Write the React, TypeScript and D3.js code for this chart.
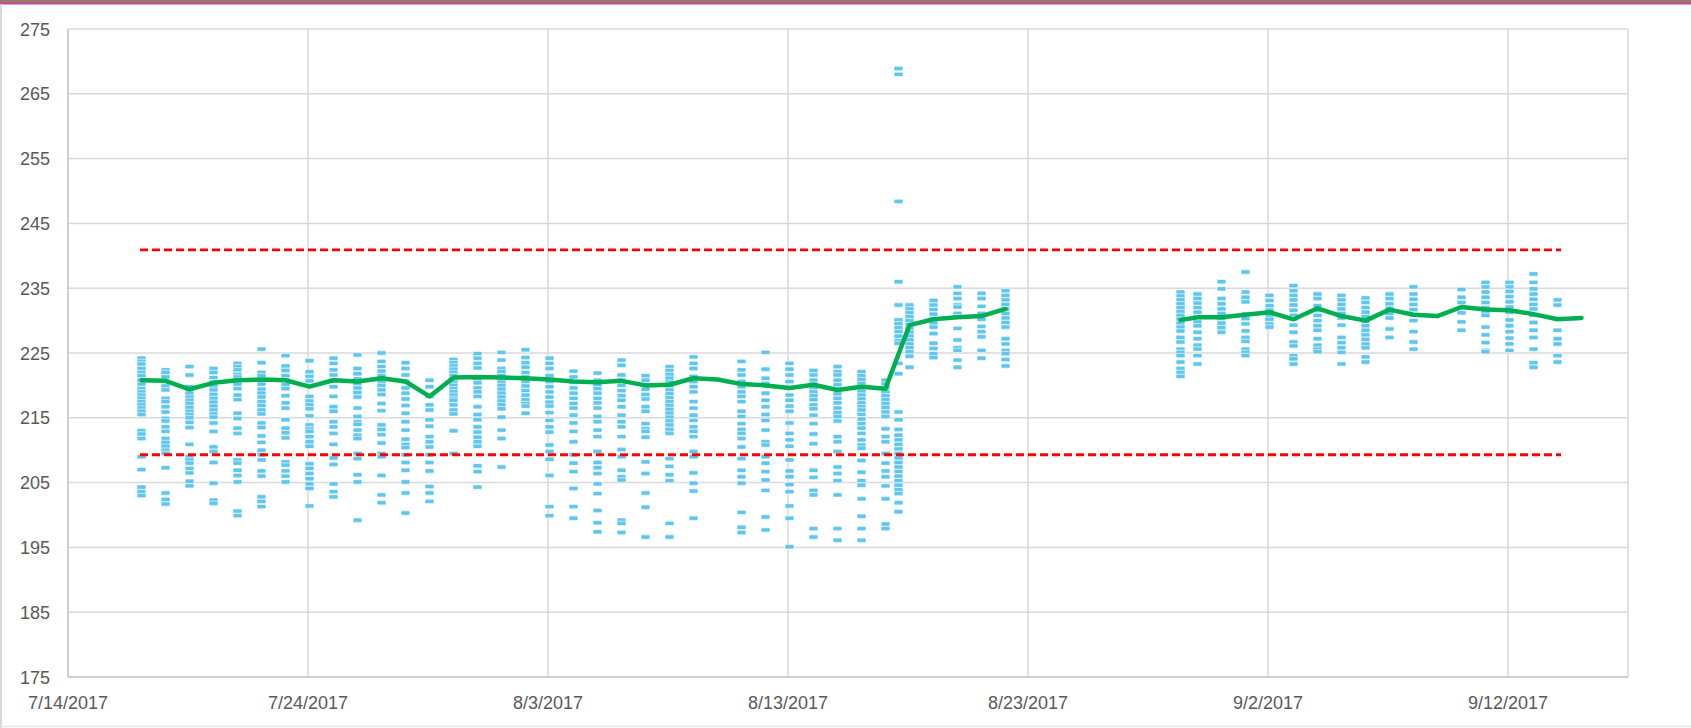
import React, { useEffect } from "react";
import * as d3 from "d3";

// ---------- DATA ----------
const xTickDates = ["7/14/2017", "7/24/2017", "8/3/2017", "8/13/2017", "8/23/2017", "9/2/2017", "9/12/2017"];
const xDomain = ["7/14/2017", "9/17/2017"];
const yTicks = [175, 185, 195, 205, 215, 225, 235, 245, 255, 265, 275];

const scatterDates = [
  "7/17/2017", "7/18/2017", "7/19/2017", "7/20/2017", "7/21/2017", "7/22/2017", "7/23/2017", "7/24/2017",
  "7/25/2017", "7/26/2017", "7/27/2017", "7/28/2017", "7/29/2017", "7/30/2017", "7/31/2017", "8/1/2017",
  "8/2/2017", "8/3/2017", "8/4/2017", "8/5/2017", "8/6/2017", "8/7/2017", "8/8/2017", "8/9/2017",
  "8/11/2017", "8/12/2017", "8/13/2017", "8/14/2017", "8/15/2017", "8/16/2017", "8/17/2017", "8/17/2017 13:00",
  "8/18/2017", "8/19/2017", "8/20/2017", "8/21/2017", "8/22/2017",
  "8/29/2017 07:00", "8/30/2017", "8/31/2017", "9/1/2017", "9/2/2017", "9/3/2017", "9/4/2017", "9/5/2017",
  "9/6/2017", "9/7/2017", "9/8/2017", "9/10/2017", "9/11/2017", "9/12/2017", "9/13/2017", "9/14/2017",
];

const scatterValues: number[][] = [
  [224.2, 223.7, 223.3, 222.6, 222, 221.5, 220.8, 220.2, 219.5, 219, 218.5, 218, 217.5, 217, 216.5, 216, 215.5, 213, 212.5, 211.8, 209, 207, 204.3, 203.6, 203],
  [222.4, 222, 221.3, 220.6, 219.9, 219.3, 218, 217.5, 216.7, 215.9, 214.9, 214.5, 213.6, 212.9, 211.8, 211.2, 210.6, 210, 209.5, 207.3, 203.4, 202.4, 201.7],
  [222.9, 221.6, 219.8, 219.3, 218.8, 218.2, 217.7, 217.2, 216.6, 216, 215.5, 215, 214.3, 213.5, 210.9, 209, 208.5, 208, 207.2, 206.5, 205.2, 204.5],
  [222.6, 222, 221.2, 220.5, 219.8, 219.3, 218.6, 218, 217.4, 216.8, 216.2, 215.6, 215.1, 214.2, 212.9, 210.5, 209.8, 208.1, 204.9, 202.3, 201.8],
  [223.4, 222.9, 222.4, 221.7, 221.3, 220.8, 220.2, 219.5, 218.5, 217.8, 215.7, 214.9, 213.4, 212.6, 208.5, 208, 206.9, 206.1, 205.1, 200.6, 199.9],
  [225.6, 223.5, 222, 221.5, 220.8, 220.2, 219.4, 218.8, 218.2, 217.5, 216.9, 216.2, 215.6, 214.2, 213.5, 212.2, 211.2, 210, 209.3, 208.5, 206.8, 206, 202.8, 202.1, 201.3],
  [224.6, 223, 222.3, 221.5, 220.8, 220.1, 219.5, 218.4, 217.3, 216.5, 214.7, 213.4, 212.7, 211.9, 208.2, 207.7, 206.8, 206, 205.1],
  [223.8, 222.1, 221.4, 220.7, 218.3, 217.6, 217, 216.4, 215.3, 213.9, 213.3, 212.9, 212.1, 211.3, 210.6, 207.9, 207.2, 206.4, 205.6, 204.8, 204.1, 201.4],
  [224.2, 223.4, 222.4, 221.6, 220.8, 219.8, 218.3, 216.7, 216, 214.4, 213.6, 212.6, 210.9, 208.8, 207.8, 204.8, 203.6, 202.8],
  [224.7, 222.6, 221.8, 221, 220.3, 219.6, 218.9, 218.2, 216.5, 215.2, 214.4, 214, 213.1, 212.3, 211.8, 209.5, 208.7, 206.2, 205.1, 199.2],
  [225, 223.7, 222.9, 222.2, 221.5, 220.6, 220, 219.3, 218.6, 217.2, 216.1, 213.9, 213.2, 212.4, 211.1, 209.5, 209, 206.1, 203.1, 201.9],
  [223.5, 222.6, 221.6, 220.6, 219.6, 218.8, 217.9, 216.9, 215.7, 214.4, 213.1, 211.7, 210.9, 210.4, 209.3, 208.1, 206.9, 205.1, 203.4, 200.3],
  [220.8, 219.8, 218.3, 217, 216.2, 214.7, 213.7, 212.1, 211.3, 210.5, 209.3, 208.1, 206.8, 204.4, 203.4, 202.1],
  [224, 223.5, 223, 222.5, 222, 221.5, 221, 220.5, 220, 219.5, 219, 218.5, 218, 217.7, 217, 216.2, 215.6, 213, 209.5],
  [224.9, 224.2, 223.4, 222.7, 221, 220.4, 219.6, 219, 218.3, 216.7, 215.5, 214.7, 213.6, 212.8, 212, 211.3, 210.6, 207.6, 206.7, 204.3],
  [225.1, 223.9, 222.6, 222.1, 221.5, 221, 220.5, 220, 219.4, 218.8, 218.2, 217.6, 217, 216.4, 215.1, 213.1, 211.8, 207.4],
  [225.5, 224.3, 223.5, 222.8, 222, 221.3, 220.6, 219.9, 219.2, 218.5, 217.8, 217.2, 216.8, 215.7],
  [224.2, 223.4, 222.6, 221.5, 220.6, 219.8, 219, 218.2, 217.4, 216.8, 215.8, 214.6, 213.6, 212.8, 210.8, 209.8, 208.6, 206.1, 201.3, 199.9],
  [222.2, 221.3, 220.5, 219.6, 218.8, 218, 217.2, 216.5, 215.4, 214.2, 212.9, 211.3, 209.3, 208, 206.7, 204.1, 201.3, 199.5],
  [221.9, 220.8, 220.1, 219.5, 218.8, 218, 217.3, 216.5, 215.2, 214.4, 213.1, 212.1, 209.8, 208.1, 207.3, 206.4, 204.8, 203.3, 200.7, 198.8, 197.4],
  [223.9, 223.1, 221.6, 220.8, 220, 219.2, 218.4, 217.7, 216.7, 215.4, 214.4, 213.6, 212.1, 210.1, 209, 206.9, 205.9, 205.4, 199.2, 198.7, 197.3],
  [221.5, 220.8, 220.1, 219.4, 218.6, 217.9, 216.7, 216, 214.1, 213.3, 212.9, 212, 208.2, 206.4, 203.4, 201.2, 196.6],
  [222.9, 222.3, 221.7, 221.1, 220.5, 219.9, 219.3, 218.7, 218.1, 217.5, 216.9, 216.3, 215.7, 215.1, 214.5, 213.9, 213.2, 212.6, 208.7, 207.5, 206.2, 205.3, 198.7, 196.6],
  [224.4, 223.4, 222.6, 221.4, 220.6, 219.8, 219, 217.5, 216.5, 215.4, 214.6, 213.6, 212.9, 212.1, 209.8, 209, 206.5, 204.9, 203.7, 199.5],
  [223.7, 222.4, 221.6, 220.6, 219.8, 219, 218.3, 217.5, 216, 215.2, 214.1, 213.2, 212.6, 211.8, 210.5, 208.7, 206.9, 205.9, 204.9, 200.4, 198.1, 197.3],
  [225.1, 222.5, 221.1, 220.3, 218.8, 217.7, 216.7, 215.5, 214.6, 213.1, 211.3, 210.8, 209, 208, 206.7, 205.4, 203.8, 199.7, 197.7],
  [223.4, 222.5, 221.6, 220.6, 218.5, 217.7, 216.8, 216, 214.2, 212.6, 211.6, 210.6, 208.5, 206.8, 205.9, 204.7, 203.6, 201.4, 199.5, 195.1],
  [222.3, 221.6, 220.8, 220.2, 219.6, 219, 218.4, 217.8, 217, 216.4, 215.4, 214.1, 212.5, 211, 206.9, 205.8, 203.8, 203.1, 197.9, 196.6],
  [222.9, 222.1, 221.6, 220.8, 220.1, 219.4, 218.7, 218, 217.3, 216.5, 215.8, 215.2, 214.5, 212.1, 211.3, 209.8, 207.4, 206.4, 205.3, 203.1, 197.9, 196.1],
  [222.1, 221.5, 220.9, 220.3, 219.7, 219.1, 218.5, 217.9, 217.3, 216.7, 216.2, 215.5, 214.8, 214.1, 213.4, 212.6, 211.6, 210.8, 210.3, 208.4, 206.6, 205.3, 204.6, 202.5, 199.8, 197.9, 196.1],
  [220.8, 220.2, 219.6, 219, 218.4, 217.8, 217.2, 216.6, 215.9, 215.2, 213.3, 212.1, 211.3, 209.5, 208, 206.8, 205.9, 204.5, 202.5, 198.6, 197.9],
  [268.9, 268, 248.4, 236, 232.4, 230.1, 229.5, 228.9, 228.3, 227.6, 226.9, 226.5, 223.4, 221.8, 215.9, 214.7, 213.2, 212.3, 211.6, 210.9, 210.2, 209.5, 208.8, 208.1, 207.4, 206.7, 206, 205.3, 204.6, 203.9, 203.3, 201.9, 200.5],
  [232.4, 231.8, 231.2, 230.6, 230, 229.4, 228.8, 228.2, 227.6, 227, 226.4, 225.8, 225.2, 224.5, 222.8],
  [233.1, 232.4, 231.7, 231, 230.3, 229.6, 229, 228, 226.5, 225.7, 224.9, 224.3],
  [235.2, 234.2, 233.4, 232.4, 232.1, 231.1, 230.6, 228.8, 227, 225.8, 225.4, 223.9, 222.8],
  [234.2, 233.4, 232.2, 231.1, 230.2, 229.1, 228.3, 227.5, 225.4, 224.2],
  [234.6, 233.9, 233.2, 232.5, 231.8, 231.1, 230.4, 229.7, 229, 227.2, 226.4, 225.4, 224.9, 224, 223],
  [234.4, 233.8, 233.2, 232.6, 232, 231.4, 230.8, 230.2, 229.6, 229, 228.4, 227.4, 226.7, 225.6, 225.1, 224.6, 223.6, 222.6, 222, 221.4],
  [234.1, 233.4, 232.7, 232, 231.3, 230.6, 229.8, 229.2, 228.2, 227.2, 226.2, 225.6, 224.6, 223.3],
  [236, 234.9, 233.4, 232.6, 231.8, 231.1, 230.3, 229.6, 228.9, 228.2],
  [237.5, 234.4, 233.6, 232.9, 231, 230.3, 229.5, 228.4, 227.4, 226.8, 225.6, 225.1, 224.6],
  [233.9, 233.1, 232.3, 231.6, 230.8, 230.2, 229.5, 229],
  [235.4, 234.6, 233.9, 233.2, 232.4, 231.6, 230.8, 230.3, 229.3, 228.2, 226.7, 226.1, 224.6, 224.1, 223.3],
  [234.1, 233.4, 232.3, 231.6, 230.8, 230, 229.2, 228.5, 227.2, 226.2, 225.6, 225.2],
  [233.9, 233.2, 232.5, 231.8, 231.1, 230.4, 229.3, 227.4, 226.6, 225.8, 225.1, 223.3],
  [233.5, 232.8, 232, 231.3, 230.6, 229.9, 229.2, 228.5, 227.8, 227.1, 226.4, 225.8, 224.4, 223.6],
  [234.1, 233.4, 232.6, 231.9, 231.1, 230.4, 228.7, 227.4],
  [235.2, 234.1, 233.3, 232.5, 231.7, 230.9, 230, 228.3, 226.7, 225.6],
  [234.8, 233.6, 232.8, 232, 231.2, 229.8, 228.5],
  [235.9, 235.2, 234.4, 233.6, 232.8, 232, 231.3, 230.8, 229, 227.8, 226.6, 225.4, 225.2],
  [235.9, 235.2, 234.5, 233.7, 232.9, 232.1, 231.3, 230.1, 229.2, 228.3, 227.3, 226.4, 225.4],
  [237.2, 235.9, 234.9, 234.1, 233.3, 232.5, 231.8, 230.8, 229.7, 228.5, 227.4, 225.6, 223.5, 222.8],
  [233.2, 232.4, 230.3, 228.5, 227.2, 226.4, 224.6, 223.6],
];

const avgDates1 = [
  "7/17/2017", "7/18/2017", "7/19/2017", "7/20/2017", "7/21/2017", "7/22/2017", "7/23/2017", "7/24/2017",
  "7/25/2017", "7/26/2017", "7/27/2017", "7/28/2017", "7/29/2017", "7/30/2017", "7/31/2017", "8/1/2017",
  "8/2/2017", "8/3/2017", "8/4/2017", "8/5/2017", "8/6/2017", "8/7/2017", "8/8/2017", "8/9/2017",
  "8/10/2017", "8/11/2017", "8/12/2017", "8/13/2017", "8/14/2017", "8/15/2017", "8/16/2017", "8/17/2017",
  "8/18/2017", "8/19/2017", "8/20/2017", "8/21/2017", "8/22/2017",
];
const avgValues1 = [
  220.8, 220.7, 219.4, 220.4, 220.8, 220.9, 220.8, 219.8,
  220.8, 220.6, 221.1, 220.6, 218.3, 221.2, 221.3, 221.2,
  221.1, 220.9, 220.6, 220.5, 220.7, 220.0, 220.1, 221.1,
  220.9, 220.2, 220.0, 219.6, 220.1, 219.3, 219.8, 219.5,
  229.3, 230.2, 230.5, 230.7, 231.8,
];
const avgDates2 = [
  "8/29/2017 07:00", "8/30/2017", "8/31/2017", "9/1/2017", "9/2/2017", "9/3/2017", "9/4/2017", "9/5/2017",
  "9/6/2017", "9/7/2017", "9/8/2017", "9/9/2017", "9/10/2017", "9/11/2017", "9/12/2017", "9/13/2017",
  "9/14/2017", "9/15/2017",
];
const avgValues2 = [
  230.1, 230.5, 230.5, 230.9, 231.3, 230.2, 231.9, 230.7,
  230.0, 231.7, 230.9, 230.7, 232.1, 231.7, 231.6, 231.0,
  230.2, 230.4,
];

const limitDates = ["7/17/2017", "9/14/2017 05:00"];
const upperLimit = 240.9;
const lowerLimit = 209.3;

// ---------- CHART ----------
const W = 1691;
const H = 728;
const M = { left: 68, right: 1628, top: 29, bottom: 677 };

const parseDT = d3.timeParse("%m/%d/%Y %H:%M");
const parseD = d3.timeParse("%m/%d/%Y");
const toDate = (s: string): Date => (parseDT(s) || parseD(s)) as Date;
const fmt = d3.timeFormat("%-m/%-d/%Y");

export default function App() {
  useEffect(() => {
    document.body.style.margin = "0";
  }, []);

  const x = d3.scaleTime().domain(xDomain.map(toDate)).range([M.left, M.right]);
  const y = d3.scaleLinear().domain([175, 275]).range([M.bottom, M.top]);

  const line = d3
    .line<[Date, number]>()
    .x((d) => x(d[0]))
    .y((d) => y(d[1]));

  const seg1: [Date, number][] = avgDates1.map((d, i) => [toDate(d), avgValues1[i]]);
  const seg2: [Date, number][] = avgDates2.map((d, i) => [toDate(d), avgValues2[i]]);

  const gridColor = "#d9d9d9";
  const axisColor = "#bfbfbf";
  const font = "'Liberation Sans', Arial, sans-serif";
  const lx0 = x(toDate(limitDates[0]));
  const lx1 = x(toDate(limitDates[1]));

  const mw = 9;
  const mh = 4.4;
  const mdx = 1.5;

  return (
    <svg width={W} height={H} style={{ position: "absolute", left: 0, top: 0, display: "block", background: "#fff" }}>
      {/* screenshot frame */}
      <rect x={0} y={0} width={W} height={3} fill="#9a7a66" />
      <rect x={0} y={3} width={W} height={1.5} fill="#d830c0" />
      <line x1={1} y1={4} x2={1} y2={H} stroke={gridColor} strokeWidth={2} />
      <line x1={0} y1={726.5} x2={W} y2={726.5} stroke="#e6e6e6" strokeWidth={1.5} />

      {/* horizontal grid */}
      {yTicks.map((t) =>
        t === 175 ? null : (
          <line key={"hg" + t} x1={M.left} x2={M.right} y1={y(t)} y2={y(t)} stroke={gridColor} strokeWidth={1.5} />
        )
      )}
      {/* vertical grid */}
      {xTickDates.slice(1).map((d) => (
        <line key={"vg" + d} x1={x(toDate(d))} x2={x(toDate(d))} y1={M.top} y2={M.bottom} stroke={gridColor} strokeWidth={1.5} />
      ))}
      <line x1={M.right} x2={M.right} y1={M.top} y2={M.bottom} stroke={gridColor} strokeWidth={1.5} />
      {/* axes */}
      <line x1={M.left} x2={M.left} y1={M.top} y2={M.bottom} stroke={axisColor} strokeWidth={1.5} />
      <line x1={M.left} x2={M.right} y1={M.bottom} y2={M.bottom} stroke={axisColor} strokeWidth={1.5} />

      {/* y labels */}
      {yTicks.map((t) => (
        <text key={"yl" + t} x={50} y={y(t) + 6.5} textAnchor="end" fontFamily={font} fontSize={18} fill="#595959">
          {t}
        </text>
      ))}
      {/* x labels */}
      {xTickDates.map((d) => (
        <text key={"xl" + d} x={x(toDate(d))} y={709} textAnchor="middle" fontFamily={font} fontSize={18} fill="#595959">
          {fmt(toDate(d))}
        </text>
      ))}

      {/* scatter */}
      <g>
        {scatterDates.map((d, i) =>
          scatterValues[i].map((v, j) => (
            <rect
              key={"p" + i + "_" + j}
              x={x(toDate(d)) - mw / 2 + mdx}
              y={y(v) - mh / 2}
              width={mw}
              height={mh}
              rx={1.2}
              fill="#5fc6f0"
              stroke="#ffffff"
              strokeWidth={0.6}
            />
          ))
        )}
      </g>

      {/* control limits */}
      <line x1={lx0} x2={lx1} y1={y(upperLimit)} y2={y(upperLimit)} stroke="#ff0000" strokeWidth={2.8} strokeDasharray="8,4" />
      <line x1={lx0} x2={lx1} y1={y(lowerLimit)} y2={y(lowerLimit)} stroke="#ff0000" strokeWidth={2.8} strokeDasharray="8,4" />

      {/* daily average */}
      <g transform={`translate(${mdx},0)`}>
        <path d={line(seg1) || ""} fill="none" stroke="#00b050" strokeWidth={4.5} strokeLinejoin="round" strokeLinecap="round" />
        <path d={line(seg2) || ""} fill="none" stroke="#00b050" strokeWidth={4.5} strokeLinejoin="round" strokeLinecap="round" />
      </g>
    </svg>
  );
}
